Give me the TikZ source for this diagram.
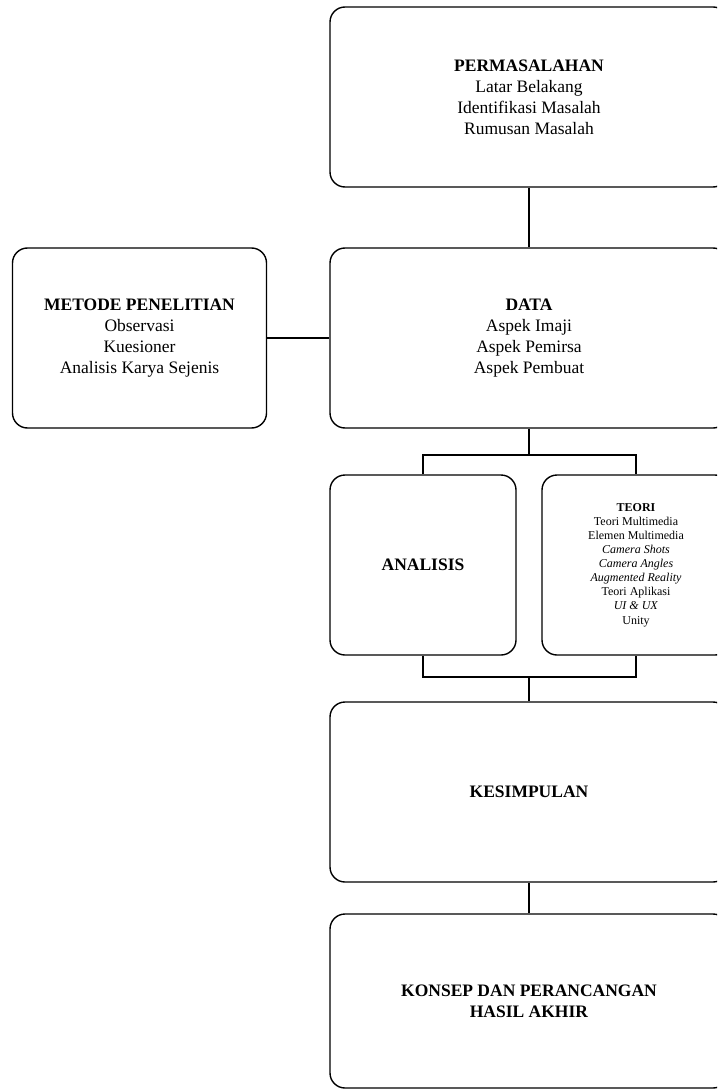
\documentclass[tikz,border=0pt]{standalone}
\usepackage{fontspec}
\setmainfont{Liberation Serif}
\usepackage{tikz}

\begin{document}
\begin{tikzpicture}[x=1pt, y={(0pt,-1pt)},
    box/.style={draw, line width=1.4pt, rounded corners=15pt, align=center, inner sep=0pt,
      font=\fontsize{17.5}{21}\selectfont},
    wide/.style={box, minimum width=398pt, minimum height=180pt},
    small/.style={font=\fontsize{12}{14.1}\selectfont}]
    \useasboundingbox (0,0) rectangle (717,1091);
    \clip (0,0) rectangle (717,1091);

    % boxes
    \node[wide] (masalah) at (529,97) {\textbf{PERMASALAHAN}\\Latar Belakang\\Identifikasi Masalah\\Rumusan Masalah};
    \node[wide] (data) at (529,338) {\textbf{DATA}\\Aspek Imaji\\Aspek Pemirsa\\Aspek Pembuat};
    \node[box, minimum width=254pt, minimum height=180pt] (metode) at (139.5,338)
      {\textbf{METODE PENELITIAN}\\Observasi\\Kuesioner\\Analisis Karya Sejenis};
    \node[box, minimum width=186pt, minimum height=180pt] (analisis) at (423,565) {\textbf{ANALISIS}};
    \node[box, small, minimum width=188pt, minimum height=180pt] (teori) at (636,565)
      {\textbf{TEORI}\\Teori Multimedia\\Elemen Multimedia\\\textit{Camera Shots}\\\textit{Camera Angles}\\\textit{Augmented Reality}\\Teori Aplikasi\\\textit{UI \& UX}\\Unity};
    \node[wide] (kesimpulan) at (529,792) {\textbf{KESIMPULAN}};
    \node[wide, minimum height=174pt] (konsep) at (529,1001) {\textbf{KONSEP DAN PERANCANGAN}\\\textbf{HASIL AKHIR}};

    % junctions
    \coordinate (split) at (529,455);
    \coordinate (join) at (529,677);

    % connectors
    \begin{scope}[line width=1.4pt]
    \draw (masalah) -- (data);
    \draw (metode) -- (data);
    \draw (data) -- (split);
    \draw (analisis.north) |- (split) -| (teori.north);
    \draw (analisis.south) |- (join) -| (teori.south);
    \draw (join) -- (kesimpulan);
    \draw (kesimpulan) -- (konsep);
    \end{scope}
\end{tikzpicture}
\end{document}
